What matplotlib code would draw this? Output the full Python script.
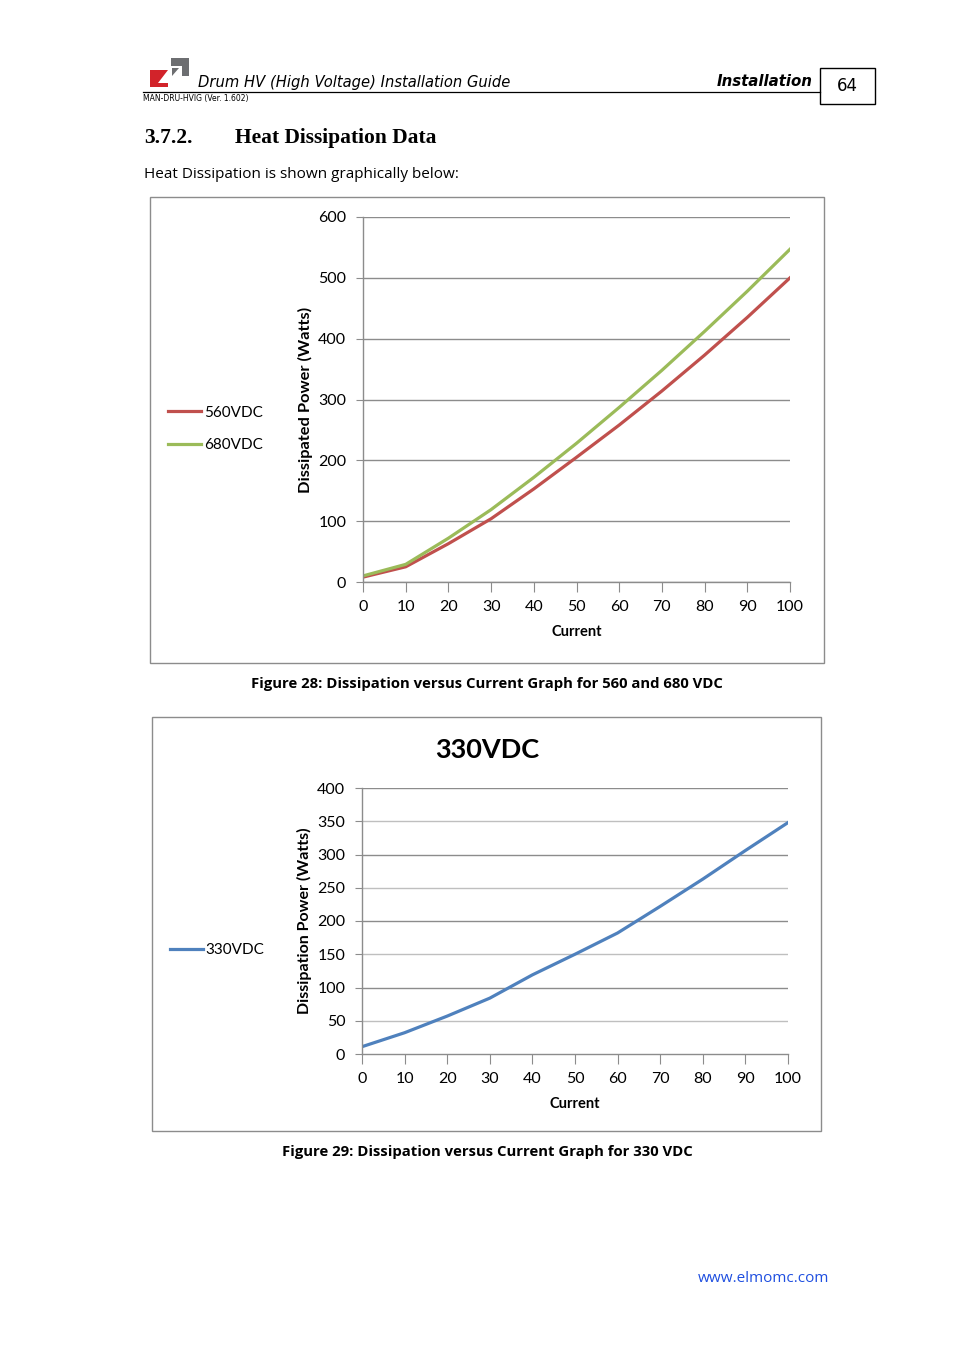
import numpy as np
import matplotlib.pyplot as plt
from matplotlib.patches import Rectangle, Polygon

# data
current = [0, 10, 20, 30, 40, 50, 60, 70, 80, 90, 100]
p_560 = [8, 25, 63, 104, 153, 205, 258, 314, 373, 435, 500]
p_680 = [10, 29, 72, 119, 172, 228, 287, 348, 412, 478, 547]
p_330 = [11, 32, 57, 84, 119, 150, 182, 222, 263, 306, 348]

x_ticks = list(range(0, 101, 10))
y_ticks_top = list(range(0, 601, 100))
y_ticks_bot = list(range(0, 401, 50))

RED = "#C0504D"
GREEN = "#9BBB59"
BLUE = "#4F81BD"
GRID = "#8C8C8C"

W, H = 954, 1350
fig = plt.figure(figsize=(W / 100, H / 100), dpi=100)

# page layer in pixel coordinates
bg = fig.add_axes([0, 0, 1, 1])
bg.set_xlim(0, W)
bg.set_ylim(H, 0)
bg.axis("off")

# logo
bg.add_patch(Polygon([(150, 70), (168, 70), (158, 83), (168, 83), (168, 87), (150, 87)],
                     closed=True, color="#D2232A", lw=0))
bg.add_patch(Polygon([(171, 58), (189, 58), (189, 76), (182, 76), (182, 66), (171, 66)],
                     closed=True, color="#6D6E71", lw=0))
bg.add_patch(Polygon([(172, 68), (179, 68), (172, 76)], closed=True, color="#6D6E71", lw=0))

bg.text(198, 82, "Drum HV (High Voltage) Installation Guide", fontsize=10.6,
        style="italic", family="DejaVu Sans", va="center", ha="left")
bg.text(813, 82, "Installation", fontsize=10.8, style="italic", weight="bold",
        family="DejaVu Sans", va="center", ha="right")
bg.plot([143, 820], [92, 92], color="black", lw=0.9)
bg.text(143, 98, "MAN-DRU-HVIG (Ver. 1.602)", fontsize=5.5, family="DejaVu Sans",
        va="center", ha="left")
bg.add_patch(Rectangle((820, 68), 55, 36, fill=False, ec="black", lw=1))
bg.text(847.5, 86, "64", fontsize=12, family="DejaVu Sans", va="center", ha="center")

bg.text(144, 138, "3.7.2.", fontsize=15.5, weight="bold", family="Liberation Serif",
        va="center", ha="left")
bg.text(235, 138, "Heat Dissipation Data", fontsize=15.5, weight="bold",
        family="Liberation Serif", va="center", ha="left")
bg.text(144, 174, "Heat Dissipation is shown graphically below:", fontsize=11,
        family="Open Sans", va="center", ha="left")

# chart frames
bg.add_patch(Rectangle((150, 197), 674, 466, fill=False, ec="#8C8C8C", lw=1))
bg.add_patch(Rectangle((152, 717), 669, 414, fill=False, ec="#8C8C8C", lw=1))

bg.text(487, 684, "Figure 28: Dissipation versus Current Graph for 560 and 680 VDC",
        fontsize=10.7, weight="bold", family="Open Sans", va="center", ha="center")
bg.text(487, 1152, "Figure 29: Dissipation versus Current Graph for 330 VDC",
        fontsize=10.7, weight="bold", family="Open Sans", va="center", ha="center")
bg.text(829, 1278, "www.elmomc.com", fontsize=11, color="#1F4FE0",
        family="Open Sans", va="center", ha="right")
bg.text(487, 750, "330VDC", fontsize=19.5, weight="bold", family="Lato",
        va="center", ha="center")


def ax_rect(x0, y0, x1, y1):
    return [x0 / W, 1 - y1 / H, (x1 - x0) / W, (y1 - y0) / H]


def style_axes(ax, yticks, ymax):
    ax.set_xlim(0, 100)
    ax.set_ylim(0, ymax)
    ax.set_xticks(x_ticks)
    ax.set_yticks(yticks)
    ax.patch.set_alpha(0)
    for s in ["top", "right"]:
        ax.spines[s].set_visible(False)
    for s in ["left", "bottom"]:
        ax.spines[s].set_color(GRID)
        ax.spines[s].set_linewidth(1)
    ax.tick_params(axis="x", direction="out", length=7, color=GRID, pad=6,
                   labelsize=11.5)
    ax.tick_params(axis="y", direction="out", length=5, color=GRID, pad=7,
                   labelsize=11.5)
    for lab in ax.get_xticklabels() + ax.get_yticklabels():
        lab.set_family("Lato")
    ax.set_axisbelow(True)


# top chart
ax1 = fig.add_axes(ax_rect(363, 217, 790, 582))
ax1.plot(current, p_560, color=RED, lw=2.3, label="560VDC")
ax1.plot(current, p_680, color=GREEN, lw=2.3, label="680VDC")
style_axes(ax1, y_ticks_top, 600)
ax1.grid(axis="y", color=GRID, lw=1)
ax1.set_xlabel("Current", fontsize=10.5, weight="bold", family="Lato", labelpad=8)
ax1.set_ylabel("Dissipated Power (Watts)", fontsize=11.8, weight="bold", family="Lato",
               labelpad=4)
ax1.legend(loc="center left", bbox_to_anchor=(154 / W, 1 - 429 / H),
           bbox_transform=fig.transFigure, frameon=False, handlelength=2.2,
           handletextpad=0.15, labelspacing=1.2, prop={"family": "Lato", "size": 11})

# bottom chart
ax2 = fig.add_axes(ax_rect(362, 788, 788, 1054))
ax2.plot(current, p_330, color=BLUE, lw=2.3, label="330VDC")
style_axes(ax2, y_ticks_bot, 400)
for v in y_ticks_bot[1:]:
    shade = GRID if v % 100 == 0 else "#BFBFBF"
    ax2.axhline(v, color=shade, lw=1, zorder=0.5)
ax2.set_xlabel("Current", fontsize=10.5, weight="bold", family="Lato", labelpad=8)
ax2.set_ylabel("Dissipation Power (Watts)", fontsize=11.5, weight="bold", family="Lato",
               labelpad=4)
ax2.legend(loc="center left", bbox_to_anchor=(156 / W, 1 - 950 / H),
           bbox_transform=fig.transFigure, frameon=False, handlelength=2.2,
           handletextpad=0.15, prop={"family": "Lato", "size": 11})

fig.savefig("out.png", dpi=100)
